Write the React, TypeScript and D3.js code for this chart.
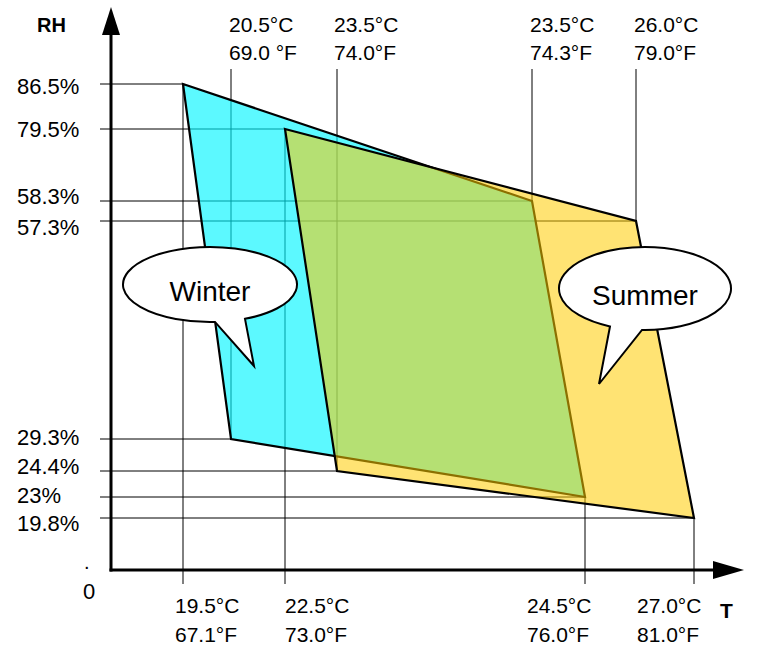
import React, { useEffect, useRef } from 'react';
import * as d3 from 'd3';

// Temperature ticks (schematic axis, keyed by °F)
const tempC = ['19.5°C', '20.5°C', '22.5°C', '23.5°C', '23.5°C', '24.5°C', '26.0°C', '27.0°C'];
const tempF = [67.1, 69.0, 73.0, 74.0, 74.3, 76.0, 79.0, 81.0];
const tempFLabels = ['67.1°F', '69.0 °F', '73.0°F', '74.0°F', '74.3°F', '76.0°F', '79.0°F', '81.0°F'];
const tempSide = ['bottom', 'top', 'bottom', 'top', 'top', 'bottom', 'top', 'bottom'];

// Relative humidity ticks
const rhTicks = [86.5, 79.5, 58.3, 57.3, 29.3, 24.4, 23, 19.8];
const rhLabels = ['86.5%', '79.5%', '58.3%', '57.3%', '29.3%', '24.4%', '23%', '19.8%'];

// Comfort zone corners (°F, %RH)
const winterT = [67.1, 74.3, 76.0, 69.0];
const winterRH = [86.5, 58.3, 23, 29.3];
const summerT = [73.0, 79.0, 81.0, 74.0];
const summerRH = [79.5, 57.3, 19.8, 24.4];

// Layout of the (non-linear) schematic axes
const xStops = [183, 231, 285, 337, 532, 585, 636, 694];
const yDomain = [0, 19.8, 23, 24.4, 29.3, 57.3, 58.3, 79.5, 86.5];
const yStops = [570, 518, 497, 471, 439, 221, 201, 129, 84];
const tempLabelDx = [-8, -2, 0, -3, -2, -58, -2, -57];
const rhLabelDy = [2, 0, -5, 6, -2, -5, -2, 5];

const FONT = 'Liberation Sans, Arial, Helvetica, sans-serif';

const App: React.FC = () => {
  const svgRef = useRef<SVGSVGElement>(null);

  useEffect(() => {
    if (!svgRef.current) return;
    d3.select(svgRef.current).selectAll('*').remove();

    const svg = d3.select(svgRef.current).attr('font-family', FONT);

    const x = d3.scaleLinear().domain(tempF).range(xStops);
    const y = d3.scaleLinear().domain(yDomain).range(yStops);
    const originX = 111;
    const originY = y(0);

    const winter = winterT.map((t, i) => [t, winterRH[i]] as [number, number]);
    const summer = summerT.map((t, i) => [t, summerRH[i]] as [number, number]);
    const corners = [...winter, ...summer];

    const poly = d3
      .line<[number, number]>()
      .x(d => x(d[0]))
      .y(d => y(d[1]))
      .curve(d3.curveLinearClosed);

    // Horizontal reference lines
    rhTicks.forEach((rh, i) => {
      const c = corners.find(p => p[1] === rh)!;
      svg
        .append('line')
        .attr('x1', 100)
        .attr('x2', x(c[0]))
        .attr('y1', y(rh))
        .attr('y2', y(rh))
        .attr('stroke', '#000')
        .attr('stroke-width', 1);

      svg
        .append('text')
        .attr('x', 17)
        .attr('y', y(rh) + 8 + rhLabelDy[i])
        .attr('font-size', 22)
        .attr('fill', '#000')
        .text(rhLabels[i]);
    });

    // Vertical reference lines + temperature labels
    tempF.forEach((t, i) => {
      const c = corners.find(p => p[0] === t)!;
      const top = tempSide[i] === 'top';
      svg
        .append('line')
        .attr('x1', x(t))
        .attr('x2', x(t))
        .attr('y1', top ? 69 : y(c[1]))
        .attr('y2', top ? y(c[1]) : 584)
        .attr('stroke', '#000')
        .attr('stroke-width', 1);

      const lx = x(t) + tempLabelDx[i];
      const row1 = top ? 32 : 613;
      const row2 = top ? 60 : 642;
      svg
        .append('text')
        .attr('x', lx)
        .attr('y', row1)
        .attr('font-size', 21)
        .attr('fill', '#000')
        .text(tempC[i]);
      svg
        .append('text')
        .attr('x', lx)
        .attr('y', row2)
        .attr('font-size', 21)
        .attr('fill', '#000')
        .text(tempFLabels[i]);
    });

    // Winter zone
    svg
      .append('path')
      .datum(winter)
      .attr('d', poly)
      .attr('fill', '#00f6ff')
      .attr('fill-opacity', 0.64)
      .attr('stroke', '#000')
      .attr('stroke-width', 2.2)
      .attr('stroke-linejoin', 'miter');

    // Summer zone
    svg
      .append('path')
      .datum(summer)
      .attr('d', poly)
      .attr('fill', '#ffcc00')
      .attr('fill-opacity', 0.55)
      .attr('stroke', '#000')
      .attr('stroke-width', 2.2)
      .attr('stroke-linejoin', 'miter');

    // Axes with arrow heads
    svg
      .append('line')
      .attr('x1', originX)
      .attr('x2', originX)
      .attr('y1', originY + 1.5)
      .attr('y2', 34)
      .attr('stroke', '#000')
      .attr('stroke-width', 3);
    svg
      .append('path')
      .attr('d', `M${originX},7 L${originX - 9},35 L${originX + 9},35 Z`)
      .attr('fill', '#000');
    svg
      .append('line')
      .attr('x1', originX - 1.5)
      .attr('x2', 714)
      .attr('y1', originY)
      .attr('y2', originY)
      .attr('stroke', '#000')
      .attr('stroke-width', 3);
    svg
      .append('path')
      .attr('d', `M744,${originY} L713,${originY - 9} L713,${originY + 9} Z`)
      .attr('fill', '#000');

    // Axis titles
    svg
      .append('text')
      .attr('x', 37)
      .attr('y', 32)
      .attr('font-size', 20)
      .attr('font-weight', 'bold')
      .text('RH');
    svg
      .append('text')
      .attr('x', 720)
      .attr('y', 618)
      .attr('font-size', 21)
      .attr('font-weight', 'bold')
      .text('T');
    svg
      .append('text')
      .attr('x', 83)
      .attr('y', 599)
      .attr('font-size', 22)
      .text('0');
    svg
      .append('text')
      .attr('x', 84)
      .attr('y', 569)
      .attr('font-size', 20)
      .text('.');

    // Speech-bubble callouts
    const callouts = [
      { label: 'Winter', cx: 210, cy: 284.5, rx: 87, ry: 37.5, b1: 215, b2: 245, tip: [254, 366] },
      { label: 'Summer', cx: 645, cy: 288.5, rx: 86, ry: 41.5, b1: 610, b2: 642, tip: [599, 384] },
    ];
    callouts.forEach(c => {
      const onEdge = (bx: number) =>
        c.cy + c.ry * Math.sqrt(Math.max(0, 1 - ((bx - c.cx) / c.rx) ** 2));
      const p1 = [c.b1, onEdge(c.b1)];
      const p2 = [c.b2, onEdge(c.b2)];
      svg
        .append('path')
        .attr(
          'd',
          `M${p1[0]},${p1[1]} A${c.rx},${c.ry} 0 1 1 ${p2[0]},${p2[1]} L${c.tip[0]},${c.tip[1]} Z`
        )
        .attr('fill', '#fff')
        .attr('stroke', '#000')
        .attr('stroke-width', 2)
        .attr('stroke-linejoin', 'miter');
      svg
        .append('text')
        .attr('x', c.cx)
        .attr('y', c.cy + 16)
        .attr('text-anchor', 'middle')
        .attr('font-size', 28)
        .attr('fill', '#000')
        .text(c.label);
    });
  }, []);

  return (
    <div>
      <svg
        ref={svgRef}
        width={762}
        height={666}
        style={{ position: 'absolute', left: 0, top: 0, background: '#fff' }}
      ></svg>
    </div>
  );
};

export default App;
